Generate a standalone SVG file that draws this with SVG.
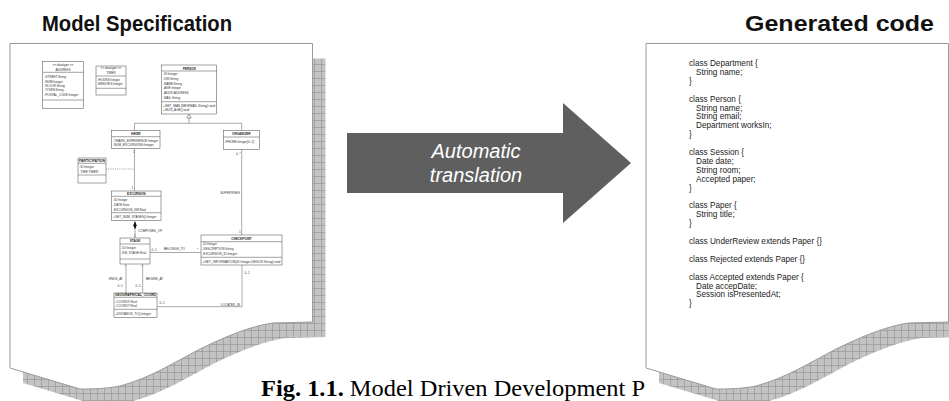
<svg xmlns="http://www.w3.org/2000/svg" width="949" height="401" viewBox="0 0 949 401">
<defs>
<pattern id="hatch" patternUnits="userSpaceOnUse" width="7" height="7">
<rect width="7" height="7" fill="#c3c3c3"/>
<path d="M0,0.3H7M0.3,0V7" stroke="#8c8c8c" stroke-width="0.7"/>
</pattern>
<path id="page" d="M10,43.5 H312.5 V322 L273,323 C250,326 225,337 200,349 C175,362 150,378 120,386 C105,389 90,389 80,389 L10,368 Z"/>
</defs>
<style>
.title{font-family:"Liberation Sans",Arial,sans-serif;font-weight:bold;font-size:22px;fill:#111}
.shadow{fill:url(#hatch);stroke:none}
.paper{fill:#fff;stroke:#9a9a9a;stroke-width:1}
.u{font-family:"Liberation Sans",Arial,sans-serif;font-size:3.1px;fill:#333}
.ub{font-weight:bold;fill:#222}
.uc{text-anchor:middle}
.box{fill:#fff;stroke:#444;stroke-width:0.5}
.sep{stroke:#444;stroke-width:0.5}
.ln{stroke:#555;stroke-width:0.5;fill:none}
.dash{stroke-dasharray:1.2,1}
.code{font-family:"Liberation Sans",Arial,sans-serif;font-size:8.2px;fill:#222}
.arrowtxt{font-family:"Liberation Sans",Arial,sans-serif;font-style:italic;font-size:20px;fill:#fff;text-anchor:middle}
.cap{font-family:"Liberation Serif","Times New Roman",serif;font-size:24px;fill:#000}
</style>

<g id="title-model"><text class="title" x="42" y="31" textLength="190" lengthAdjust="spacingAndGlyphs">Model Specification</text></g>
<g id="title-code"><text class="title" x="745" y="31" textLength="189" lengthAdjust="spacingAndGlyphs">Generated code</text></g>

<g id="model-doc">
<use href="#page" class="shadow" transform="translate(13,15)"/>
<use href="#page" class="paper"/>
</g>

<g id="uml-connectors">
<polygon points="189,114 191.2,118 186.8,118" fill="#fff" stroke="#444" stroke-width="0.5"/>
<path class="ln" d="M189,118V123.3M134.5,123.3H241.7M134.5,123.3V130.7M241.7,123.3V130.7"/>
<path class="ln" d="M134.5,148.3V191"/>
<path class="ln dash" d="M106,169H134.5"/>
<polygon points="135,220.7 136.6,225.3 135,230 133.4,225.3" fill="#111"/>
<path class="ln" d="M135,230V238"/>
<path class="ln" d="M241.7,149.3V235"/>
<path class="ln" d="M150,252.5H201"/>
<path class="ln" d="M126,264V293M142.7,264V293"/>
<path class="ln" d="M242,265V306.7H157"/>
<g class="u">
<text x="133" y="152.5">1</text>
<text x="131.5" y="189">1</text>
<text x="236" y="154.5">0..*</text>
<text x="138" y="232">COMPOSED_OF</text>
<text x="134" y="237">1</text>
<text x="240" y="193.5" text-anchor="end">SUPERVISES</text>
<text x="239" y="233">1</text>
<text x="151.5" y="250.5">0..1</text>
<text x="164" y="249.5">BELONGS_TO</text>
<text x="197" y="251">*</text>
<text x="123" y="279.5" text-anchor="end">ENDS_AT</text>
<text x="146" y="279.5">BEGINS_AT</text>
<text x="117.5" y="287">0..1</text>
<text x="135.5" y="287">0..1</text>
<text x="124.5" y="268">*</text>
<text x="141.5" y="268">*</text>
<text x="244.5" y="273.5">0..1</text>
<text x="159.5" y="304">0..1</text>
<text x="240" y="305.5" text-anchor="end">LOCATED_IN</text>
</g>
</g>

<g id="uml-address" class="u">
<rect class="box" x="42.7" y="61.7" width="40.6" height="46.6"/>
<path class="sep" d="M42.7,72.3H83.3M42.7,100H83.3"/>
<text class="uc" x="63" y="66.2">&lt;&lt; datatype &gt;&gt;</text>
<text class="uc" x="63" y="70.5">ADDRESS</text>
<text x="44.2" y="78.4">-STREET:String</text>
<text x="44.2" y="82.8">-NUM:Integer</text>
<text x="44.2" y="87.1">-FLOOR:String</text>
<text x="44.2" y="91.4">-TOWN:String</text>
<text x="44.2" y="95.8">-POSTAL_CODE:Integer</text>
</g>

<g id="uml-timer" class="u">
<rect class="box" x="96" y="66" width="30" height="29"/>
<path class="sep" d="M96,76H126M96,88.3H126"/>
<text class="uc" x="111" y="69.4">&lt;&lt; datatype &gt;&gt;</text>
<text class="uc" x="111" y="73.8">TIMER</text>
<text x="97.3" y="81.1">-HOURS:Integer</text>
<text x="97.3" y="85.4">-MINUTES:Integer</text>
</g>

<g id="uml-person" class="u">
<rect class="box" x="161.7" y="65" width="55" height="49"/>
<path class="sep" d="M161.7,71H216.7M161.7,101.7H216.7"/>
<text class="uc ub" x="189.2" y="69.5" font-style="italic">PERSON</text>
<text x="163" y="75.4">-ID:Integer</text>
<text x="163" y="80.1">-DNI:String</text>
<text x="163" y="84.8">-NAME:String</text>
<text x="163" y="89.4">-AGE:Integer</text>
<text x="163" y="94.4">-ADDR:ADDRESS</text>
<text x="163" y="99.4">-MAIL:String</text>
<text x="163" y="107.1" textLength="52" lengthAdjust="spacingAndGlyphs">+SET_MAIL(NEWMAIL:String):void</text>
<text x="163" y="111.4">+INCR_AGE():void</text>
</g>

<g id="uml-hiker" class="u">
<rect class="box" x="111.7" y="130.7" width="48.3" height="17.6"/>
<path class="sep" d="M111.7,136.7H160"/>
<text class="uc ub" x="135.8" y="135.4">HIKER</text>
<text x="113" y="141.8" textLength="45" lengthAdjust="spacingAndGlyphs">-YEARS_EXPERIENCE:Integer</text>
<text x="113" y="146.1">-NUM_EXCURSIONS:Integer</text>
</g>

<g id="uml-organizer" class="u">
<rect class="box" x="223.3" y="130.7" width="36" height="18.6"/>
<path class="sep" d="M223.3,137H259.3"/>
<text class="uc ub" x="241.3" y="135.3">ORGANIZER</text>
<text x="224.6" y="143.2">-PHONE:Integer[0..2]</text>
</g>

<g id="uml-participation" class="u">
<rect class="box" x="78" y="158" width="28" height="25"/>
<path class="sep" d="M78,163.3H106M78,175H106"/>
<text class="uc ub" x="92" y="162.1" textLength="26" lengthAdjust="spacingAndGlyphs">PARTICIPATION</text>
<text x="79.3" y="167.8">-ID:Integer</text>
<text x="79.3" y="172.8">-TIME:TIMER</text>
</g>

<g id="uml-excursion" class="u">
<rect class="box" x="111.7" y="191" width="49.3" height="29.7"/>
<path class="sep" d="M111.7,196.3H161M111.7,212.7H161"/>
<text class="uc ub" x="136.3" y="194.9">EXCURSION</text>
<text x="113" y="201.2">-ID:Integer</text>
<text x="113" y="206.2">-DATE:Date</text>
<text x="113" y="211.2">-EXCURSION_KM:Real</text>
<text x="113" y="217.9">+GET_NUM_STAGES():Integer</text>
</g>

<g id="uml-stage" class="u">
<rect class="box" x="120" y="238" width="30" height="26"/>
<path class="sep" d="M120,244H150M120,259H150"/>
<text class="uc ub" x="135" y="242.2">STAGE</text>
<text x="121.3" y="249.2">-ID:Integer</text>
<text x="121.3" y="254">-KM_STAGE:Real</text>
</g>

<g id="uml-checkpoint" class="u">
<rect class="box" x="201" y="235" width="81" height="30"/>
<path class="sep" d="M201,241.7H282M201,257.3H282"/>
<text class="uc ub" x="241.5" y="239.9">CHECKPOINT</text>
<text x="202.3" y="245.4">-ID:Integer</text>
<text x="202.3" y="250.2">-DESCRIPTION:String</text>
<text x="202.3" y="255">-EXCURSION_ID:Integer</text>
<text x="202.3" y="263" textLength="78" lengthAdjust="spacingAndGlyphs">+GET_INFORMATION(ID:Integer,DESCR:String):void</text>
</g>

<g id="uml-geocoord" class="u">
<rect class="box" x="114" y="293" width="43" height="24.3"/>
<path class="sep" d="M114,297.3H157M114,309.3H157"/>
<text class="uc ub" x="135.5" y="296.3" textLength="41" lengthAdjust="spacingAndGlyphs">GEOGRAPHICAL_COORD</text>
<text x="115.3" y="302.9">-COORDX:Real</text>
<text x="115.3" y="307.2">-COORDY:Real</text>
<text x="115.3" y="314.5">+DISTANCE_TO():Integer</text>
</g>

<g id="translation-arrow">
<polygon points="347,133 563,133 563,103 631,163 563,223 563,193 347,193" fill="#5f5f5f"/>
<text class="arrowtxt" x="476" y="158">Automatic</text>
<text class="arrowtxt" x="476" y="182">translation</text>
</g>

<g id="caption"><text class="cap" x="261" y="395.5" textLength="384" lengthAdjust="spacingAndGlyphs"><tspan font-weight="bold">Fig. 1.1.</tspan> Model Driven Development P</text></g>

<g id="code-doc">
<use href="#page" class="shadow" transform="translate(649,15)"/>
<use href="#page" class="paper" transform="translate(636,0)"/>
<g class="code">
<text x="689" y="66">class Department {</text>
<text x="696" y="74.9">String name;</text>
<text x="689" y="83.8">}</text>
<text x="689" y="101.6">class Person {</text>
<text x="696" y="110.5">String name;</text>
<text x="696" y="119.4">String email;</text>
<text x="696" y="128.3">Department worksIn;</text>
<text x="689" y="137.2">}</text>
<text x="689" y="155">class Session {</text>
<text x="696" y="163.9">Date date;</text>
<text x="696" y="172.8">String room;</text>
<text x="696" y="181.7">Accepted paper;</text>
<text x="689" y="190.6">}</text>
<text x="689" y="208.4">class Paper {</text>
<text x="696" y="217.3">String title;</text>
<text x="689" y="226.2">}</text>
<text x="689" y="244">class UnderReview extends Paper {}</text>
<text x="689" y="261.8">class Rejected extends Paper {}</text>
<text x="689" y="279.6">class Accepted extends Paper {</text>
<text x="696" y="288.5">Date accepDate;</text>
<text x="696" y="297.4">Session isPresentedAt;</text>
<text x="689" y="306.3">}</text>
</g>
</g>
</svg>
